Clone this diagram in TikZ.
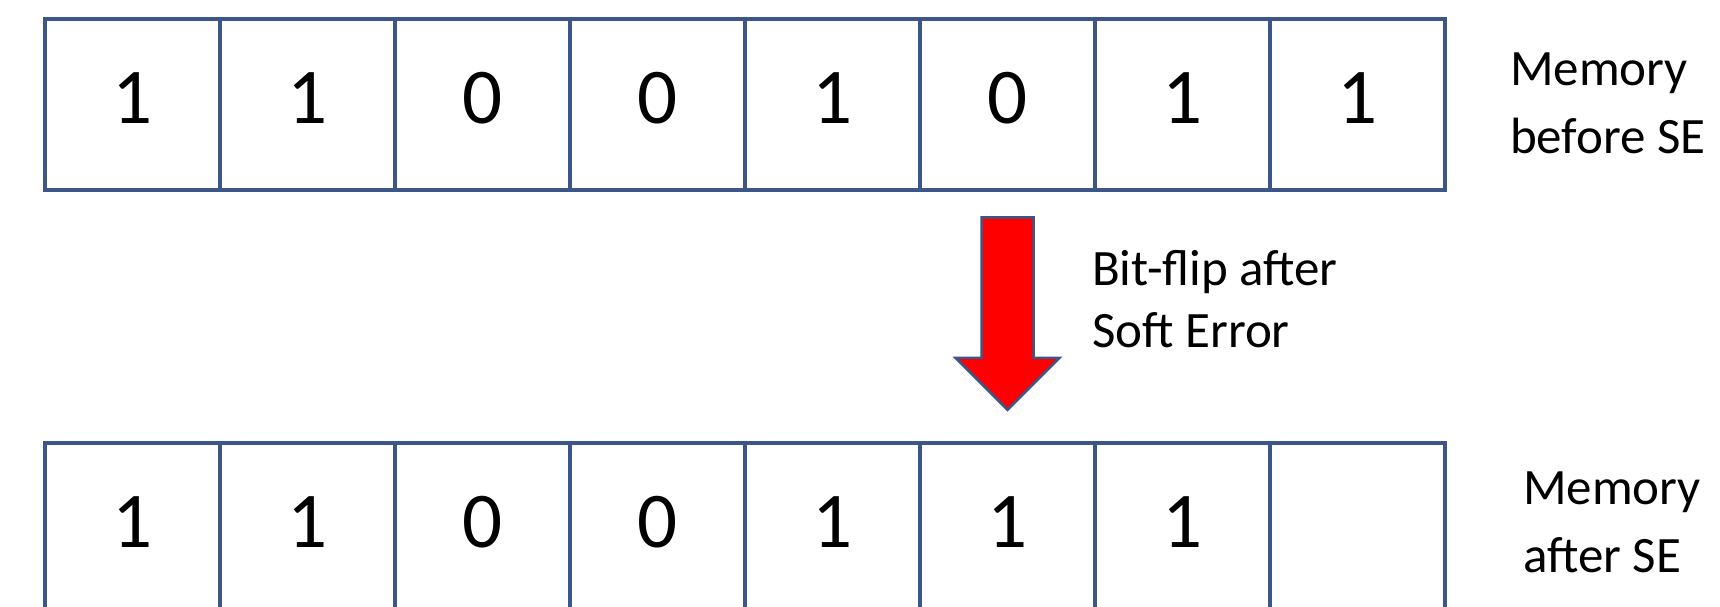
\documentclass[tikz,border=0pt]{standalone}
\usepackage{fontspec}
\setmainfont{Carlito}
\usetikzlibrary{calc}
\definecolor{cellline}{HTML}{3B5687}
\definecolor{arrowred}{HTML}{FF0000}
\tikzset{
  cell/.style={draw=cellline, line width=4.5pt, minimum width=175pt, minimum height=171pt,
    inner sep=0pt, text height=37pt, text depth=0pt, font=\fontsize{79}{90}\selectfont},
  sidelabel/.style={anchor=base west, align=left, inner sep=0pt, font=\fontsize{51}{68}\selectfont},
  flipbody/.style={fill=arrowred, draw=cellline, line width=2.5pt, line join=miter},
}
\begin{document}
\begin{tikzpicture}[x=1pt,y=-1pt]
\useasboundingbox (0,0) rectangle (1720,606);
\clip (0,0) rectangle (1720,606);
% top row
\foreach \v [count=\i] in {1,1,0,0,1,0,1,1} {
  \node[cell] (t\i) at ({45+175*(\i-0.5)},104.5) {\v};
}
% bottom row
\foreach \v [count=\i] in {1,1,0,0,1,1,1,{}} {
  \node[cell] (b\i) at ({45+175*(\i-0.5)},528.5) {\v};
}
% labels (base anchor = baseline of the last line)
\node[sidelabel] (lbltop) at (1510,153) {Memory\\before SE};
\node[sidelabel] (lblbot) at (1523,572) {Memory\\after SE};
\node[sidelabel, font=\fontsize{51}{62}\selectfont] (lblflip) at (1092,347) {Bit-flip after\\Soft Error};
% block arrow
\coordinate (atop) at ($(t6.south)+(0,25)$);
\coordinate (atip) at ($(b6.north)+(0,-31)$);
\draw[flipbody] ($(atop)+(-26,0)$) -- ($(atop)+(26,0)$) -- ($(atip)+(26,-52)$) -- ($(atip)+(52,-52)$)
  -- (atip) -- ($(atip)+(-52,-52)$) -- ($(atip)+(-26,-52)$) -- cycle;
\end{tikzpicture}
\end{document}
